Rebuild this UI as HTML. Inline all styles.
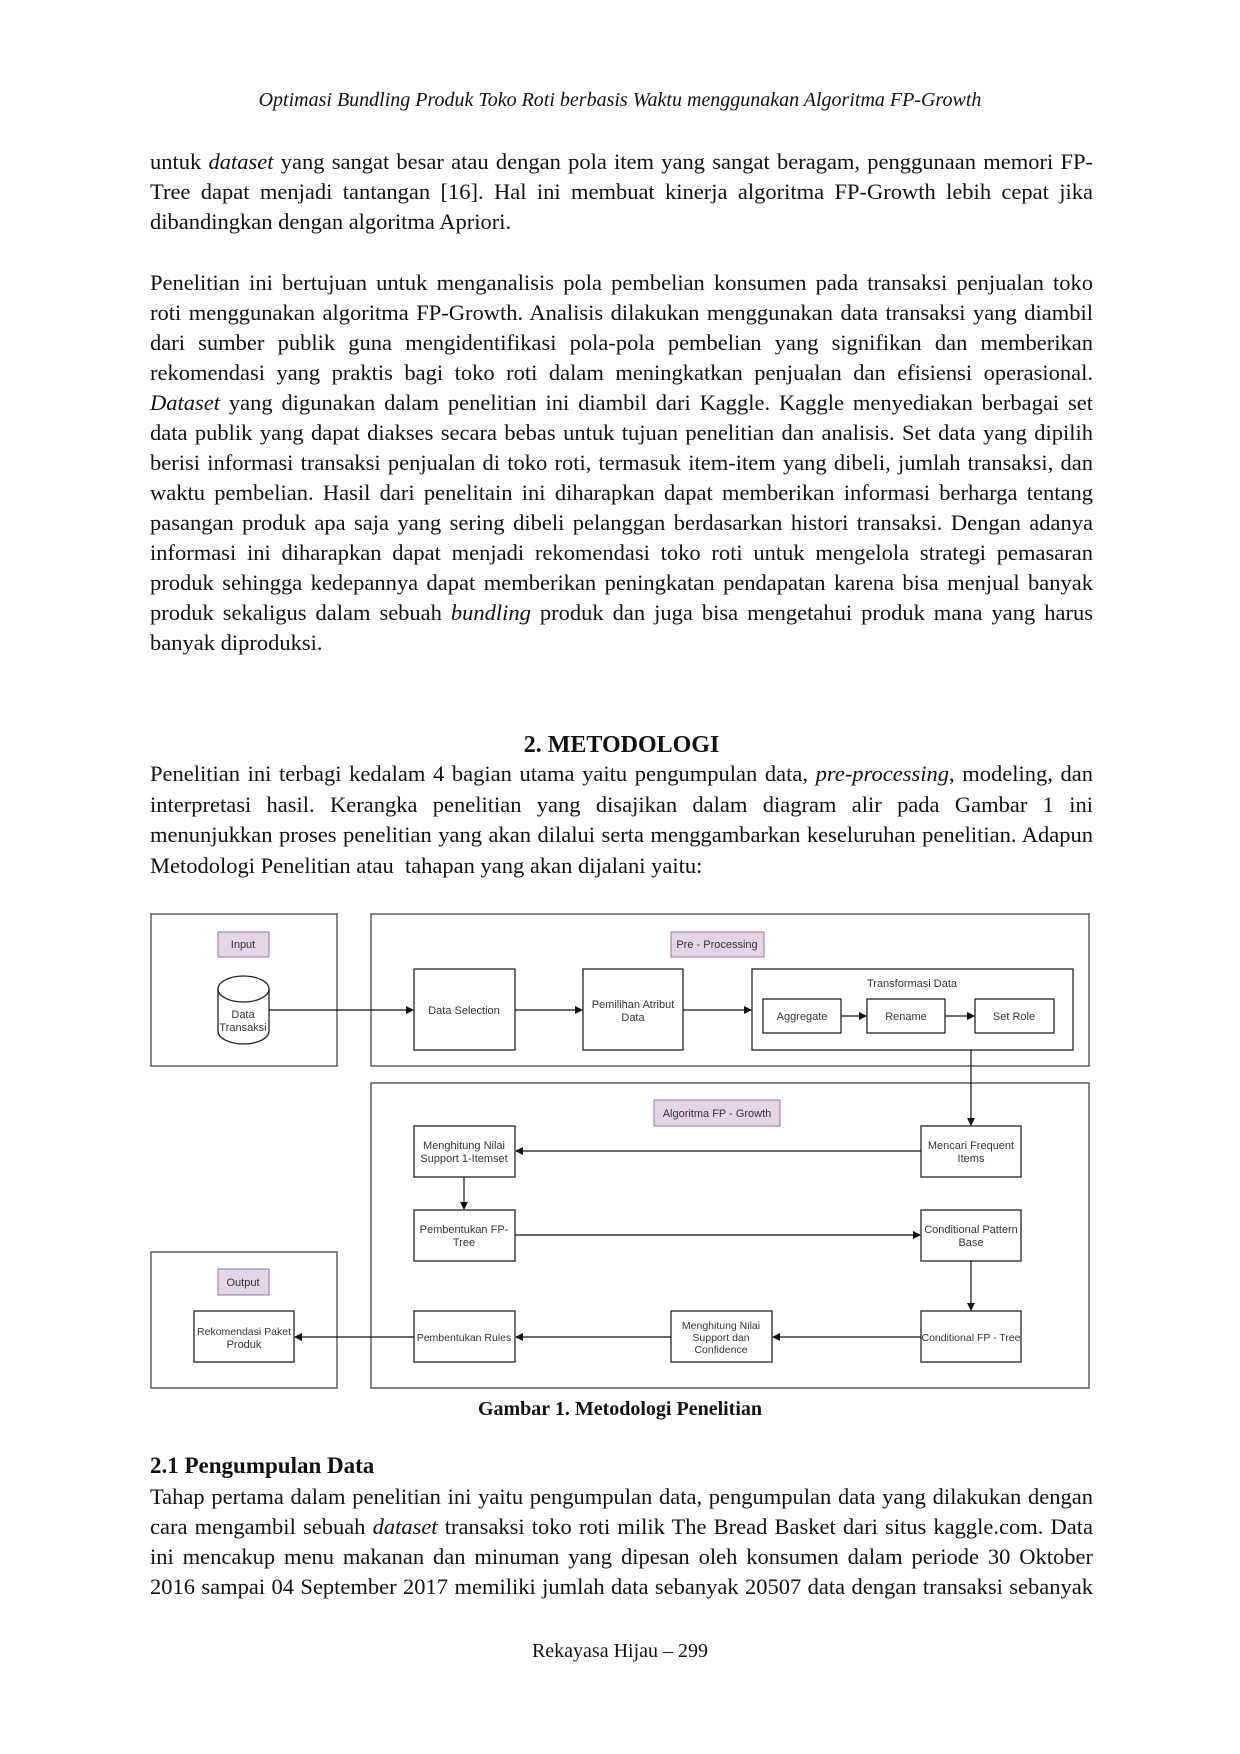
<!DOCTYPE html>
<html><head><meta charset="utf-8"><style>
body{margin:0;width:1240px;height:1754px;background:#fff;position:relative;overflow:hidden;font-family:"Liberation Serif","Tinos","Times New Roman",serif;color:#111}
.p{position:absolute;left:150px;width:943px;font-size:22.5px;line-height:30px;font-weight:400}
.p div{text-align:justify;text-align-last:justify;white-space:nowrap}
.p div.l{text-align-last:left}
.c{position:absolute;left:0;width:1240px;text-align:center}
i{font-style:italic}
svg{position:absolute;left:0;top:0}
</style></head><body>
<div class="c" style="top:89px;font-size:20px;font-style:italic">Optimasi Bundling Produk Toko Roti berbasis Waktu menggunakan Algoritma FP-Growth</div>

<div class="p" style="top:147px">
<div>untuk <i>dataset</i> yang sangat besar atau dengan pola item yang sangat beragam, penggunaan memori FP-</div>
<div>Tree dapat menjadi tantangan [16]. Hal ini membuat kinerja algoritma FP-Growth lebih cepat jika</div>
<div class="l">dibandingkan dengan algoritma Apriori.</div>
</div>

<div class="p" style="top:268px">
<div>Penelitian ini bertujuan untuk menganalisis pola pembelian konsumen pada transaksi penjualan toko</div>
<div>roti menggunakan algoritma FP-Growth. Analisis dilakukan menggunakan data transaksi yang diambil</div>
<div>dari sumber publik guna mengidentifikasi pola-pola pembelian yang signifikan dan memberikan</div>
<div>rekomendasi yang praktis bagi toko roti dalam meningkatkan penjualan dan efisiensi operasional.</div>
<div><i>Dataset</i> yang digunakan dalam penelitian ini diambil dari Kaggle. Kaggle menyediakan berbagai set</div>
<div>data publik yang dapat diakses secara bebas untuk tujuan penelitian dan analisis. Set data yang dipilih</div>
<div>berisi informasi transaksi penjualan di toko roti, termasuk item-item yang dibeli, jumlah transaksi, dan</div>
<div>waktu pembelian. Hasil dari penelitain ini diharapkan dapat memberikan informasi berharga tentang</div>
<div>pasangan produk apa saja yang sering dibeli pelanggan berdasarkan histori transaksi. Dengan adanya</div>
<div>informasi ini diharapkan dapat menjadi rekomendasi toko roti untuk mengelola strategi pemasaran</div>
<div>produk sehingga kedepannya dapat memberikan peningkatan pendapatan karena bisa menjual banyak</div>
<div>produk sekaligus dalam sebuah <i>bundling</i> produk dan juga bisa mengetahui produk mana yang harus</div>
<div class="l">banyak diproduksi.</div>
</div>

<div class="c" style="top:730px;left:0;width:1243px;font-size:24px;line-height:30px;font-weight:bold">2. METODOLOGI</div>
<div class="p" style="top:759px;line-height:30.7px">
<div>Penelitian ini terbagi kedalam 4 bagian utama yaitu pengumpulan data, <i>pre-processing</i>, modeling, dan</div>
<div>interpretasi hasil. Kerangka penelitian yang disajikan dalam diagram alir pada Gambar 1 ini</div>
<div>menunjukkan proses penelitian yang akan dilalui serta menggambarkan keseluruhan penelitian. Adapun</div>
<div class="l">Metodologi Penelitian atau&nbsp; tahapan yang akan dijalani yaitu:</div>
</div>

<svg width="1240" height="1754" font-family="Liberation Sans, sans-serif" font-size="11" fill="#333">
<defs><marker id="a" markerWidth="8" markerHeight="8" refX="7" refY="4" orient="auto" markerUnits="userSpaceOnUse"><path d="M0,0 L8,4 L0,8 Z" fill="#111"/></marker></defs>
<g fill="none" stroke="#444" stroke-width="1.3">
<rect x="151" y="914" width="186" height="152"/>
<rect x="371" y="914" width="718" height="152"/>
<rect x="371" y="1083" width="718" height="305"/>
<rect x="151" y="1252" width="186" height="136"/>
</g>
<g fill="#e1d5e7" stroke="#9673a6" stroke-width="1">
<rect x="218" y="932" width="51" height="25"/>
<rect x="671" y="932" width="93" height="25"/>
<rect x="654" y="1100" width="126" height="26"/>
<rect x="218" y="1269" width="51" height="26"/>
</g>
<g fill="#fff" stroke="#222" stroke-width="1.3">
<path d="M218,989 L218,1031 A25.5,13 0 0 0 269,1031 L269,989"/>
<ellipse cx="243.5" cy="989" rx="25.5" ry="13"/>
<rect x="414" y="969" width="101" height="81"/>
<rect x="583" y="969" width="100" height="81"/>
<rect x="752" y="969" width="321" height="81"/>
<rect x="763" y="999" width="78" height="34"/>
<rect x="867" y="999" width="78" height="34"/>
<rect x="975" y="999" width="79" height="34"/>
<rect x="414" y="1126" width="101" height="51"/>
<rect x="921" y="1126" width="100" height="51"/>
<rect x="414" y="1210" width="101" height="51"/>
<rect x="921" y="1210" width="100" height="51"/>
<rect x="414" y="1311" width="101" height="51"/>
<rect x="671" y="1311" width="101" height="51"/>
<rect x="921" y="1311" width="100" height="51"/>
<rect x="194" y="1311" width="100" height="51"/>
</g>
<g stroke="#111" stroke-width="1.2" marker-end="url(#a)">
<line x1="269" y1="1010" x2="413" y2="1010"/>
<line x1="515" y1="1010" x2="582" y2="1010"/>
<line x1="683" y1="1010" x2="751" y2="1010"/>
<line x1="841" y1="1016" x2="866" y2="1016"/>
<line x1="945" y1="1016" x2="974" y2="1016"/>
<line x1="971" y1="1050" x2="971" y2="1125"/>
<line x1="921" y1="1151" x2="516" y2="1151"/>
<line x1="464" y1="1177" x2="464" y2="1209"/>
<line x1="515" y1="1235" x2="920" y2="1235"/>
<line x1="971" y1="1261" x2="971" y2="1310"/>
<line x1="921" y1="1337" x2="773" y2="1337"/>
<line x1="671" y1="1337" x2="516" y2="1337"/>
<line x1="414" y1="1337" x2="295" y2="1337"/>
</g>
<g text-anchor="middle">
<text x="243" y="948">Input</text>
<text x="717" y="948">Pre - Processing</text>
<text x="717" y="1117">Algoritma FP - Growth</text>
<text x="243" y="1286">Output</text>
<text x="243" y="1018">Data</text>
<text x="243" y="1031">Transaksi</text>
<text x="464" y="1014">Data Selection</text>
<text x="633" y="1008">Pemilihan Atribut</text>
<text x="633" y="1021">Data</text>
<text x="912" y="987">Transformasi Data</text>
<text x="802" y="1020">Aggregate</text>
<text x="906" y="1020">Rename</text>
<text x="1014" y="1020">Set Role</text>
<text x="464" y="1149">Menghitung Nilai</text>
<text x="464" y="1162">Support 1-Itemset</text>
<text x="971" y="1149">Mencari Frequent</text>
<text x="971" y="1162">Items</text>
<text x="464" y="1233">Pembentukan FP-</text>
<text x="464" y="1246">Tree</text>
<text x="971" y="1233">Conditional Pattern</text>
<text x="971" y="1246">Base</text>
<text x="464" y="1341" font-size="10.5">Pembentukan Rules</text>
<text x="721" y="1329" font-size="10.5">Menghitung Nilai</text>
<text x="721" y="1341" font-size="10.5">Support dan</text>
<text x="721" y="1353" font-size="10.5">Confidence</text>
<text x="971" y="1341" font-size="10.5">Conditional FP - Tree</text>
<text x="244" y="1335" font-size="10.5">Rekomendasi Paket</text>
<text x="244" y="1348">Produk</text>
</g>
</svg>

<div class="c" style="top:1398px;font-size:20px;font-weight:bold">Gambar 1. Metodologi Penelitian</div>
<div class="p" style="top:1451px;font-weight:bold;font-size:23px">2.1 Pengumpulan Data</div>
<div class="p" style="top:1482px">
<div>Tahap pertama dalam penelitian ini yaitu pengumpulan data, pengumpulan data yang dilakukan dengan</div>
<div>cara mengambil sebuah <i>dataset</i> transaksi toko roti milik The Bread Basket dari situs kaggle.com. Data</div>
<div>ini mencakup menu makanan dan minuman yang dipesan oleh konsumen dalam periode 30 Oktober</div>
<div>2016 sampai 04 September 2017 memiliki jumlah data sebanyak 20507 data dengan transaksi sebanyak</div>
</div>
<div class="c" style="top:1640px;font-size:20px">Rekayasa Hijau – 299</div>
</body></html>
